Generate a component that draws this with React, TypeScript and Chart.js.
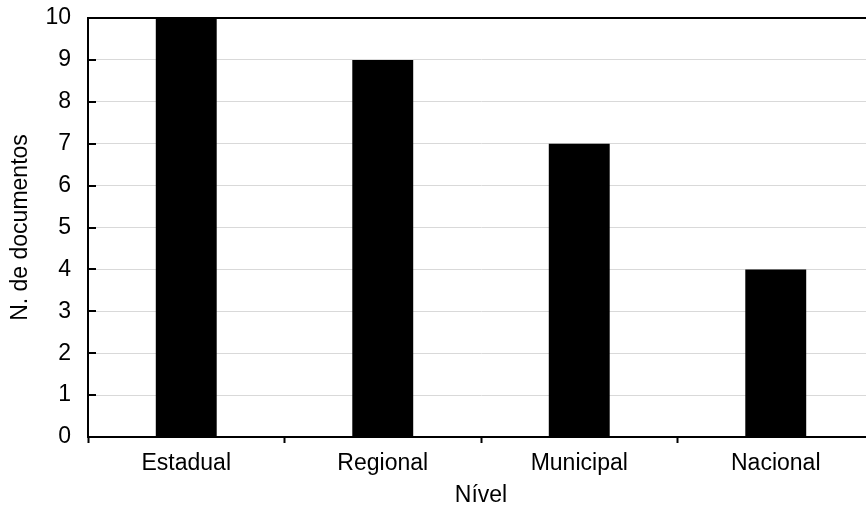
import React, { useEffect, useRef } from "react";
import { Chart, registerables } from "chart.js";

Chart.register(...registerables);

const categories = ["Estadual", "Regional", "Municipal", "Nacional"];
const values = [10, 9, 7, 4];
const yTicks = [0, 1, 2, 3, 4, 5, 6, 7, 8, 9, 10];
const xTitle = "Nível";
const yTitle = "N. de documentos";

const FONT = "'Liberation Sans', Arial, sans-serif";
const FS = 23;

const innerTicks = {
  id: "innerTicks",
  afterDraw(chart: any) {
    const y = chart.scales.y;
    const ctx = chart.ctx;
    ctx.save();
    ctx.strokeStyle = "#000";
    ctx.lineWidth = 2;
    for (const v of yTicks) {
      const py = Math.round(y.getPixelForValue(v));
      ctx.beginPath();
      ctx.moveTo(chart.chartArea.left, py);
      ctx.lineTo(chart.chartArea.left + 8, py);
      ctx.stroke();
    }
    ctx.restore();
  },
};

export default function App() {
  const ref = useRef<HTMLCanvasElement>(null);
  useEffect(() => {
    if (!ref.current) return;
    const chart = new Chart(ref.current, {
      type: "bar",
      data: {
        labels: categories,
        datasets: [
          {
            data: values,
            backgroundColor: "#000",
            borderWidth: 0,
            barPercentage: 0.31,
            categoryPercentage: 1,
          },
        ],
      },
      options: {
        responsive: false,
        animation: false,
        devicePixelRatio: 1,
        layout: { padding: { top: 18, right: 16, bottom: 0, left: 0 } },
        plugins: { legend: { display: false }, tooltip: { enabled: false } },
        scales: {
          x: {
            afterFit: (s: any) => {
              s.height = 76;
            },
            grid: {
              offset: true,
              drawOnChartArea: false,
              drawTicks: true,
              tickLength: 6,
              tickWidth: 2,
              tickColor: "#000",
            },
            border: { color: "#000", width: 2 },
            ticks: {
              color: "#000",
              padding: 7,
              font: { family: FONT, size: FS },
            },
            title: {
              display: true,
              text: xTitle,
              color: "#000",
              font: { family: FONT, size: FS },
              padding: { top: 0, bottom: 4 },
            },
          },
          y: {
            min: 0,
            max: 10,
            afterFit: (s: any) => {
              s.width = 88;
              s.paddingTop = 0;
              s.paddingBottom = 0;
            },
            afterBuildTicks: (s: any) => {
              s.ticks = yTicks.map((v) => ({ value: v }));
            },
            grid: {
              drawTicks: false,
              color: (c: any) =>
                c.tick && (c.tick.value === 10 || c.tick.value === 0) ? "#000" : "#d9d9d9",
              lineWidth: (c: any) => (c.tick && c.tick.value === 10 ? 2 : 1),
            },
            border: { color: "#000", width: 2 },
            ticks: {
              color: "#000",
              padding: 17,
              font: { family: FONT, size: FS },
            },
            title: {
              display: true,
              text: yTitle,
              color: "#000",
              font: { family: FONT, size: FS },
              padding: { top: 7, bottom: 0 },
            },
          },
        },
      },
      plugins: [innerTicks],
    });
    return () => chart.destroy();
  }, []);
  return (
    <div
      style={{
        position: "fixed",
        left: 0,
        top: 0,
        width: 866,
        height: 513,
        overflow: "hidden",
        background: "#fff",
      }}
    >
      <canvas ref={ref} width={890} height={513} style={{ display: "block" }} />
    </div>
  );
}
